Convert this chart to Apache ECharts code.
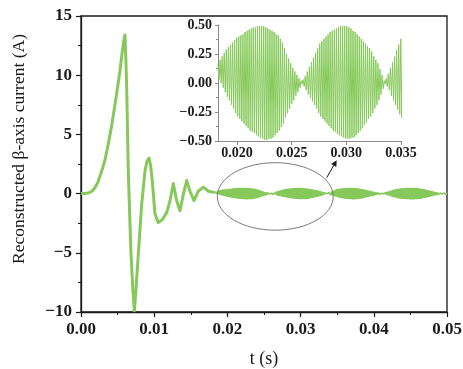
<!DOCTYPE html>
<html>
<head>
<meta charset="utf-8">
<script src="https://cdn.jsdelivr.net/npm/echarts@6/dist/echarts.min.js"></script>
<style>
  html, body { margin: 0; padding: 0; background: #fff; }
  #chart { width: 463px; height: 369px; }
</style>
</head>
<body>
<div id="chart"></div>
<script>
// Start-up transient of the reconstructed beta-axis current (s, A)
const tTrend = [0, 0.0005, 0.001, 0.0015, 0.0019, 0.0023, 0.00283, 0.0033, 0.00373, 0.0042,
  0.00464, 0.005, 0.00533, 0.0056, 0.00592, 0.006, 0.00612, 0.00624, 0.00646, 0.00665,
  0.00683, 0.0071, 0.00729, 0.0075, 0.00783, 0.00829, 0.00874, 0.009, 0.00929, 0.0095,
  0.00974, 0.0101, 0.01056, 0.01111, 0.01171, 0.01216, 0.01261, 0.01307, 0.01352, 0.01398,
  0.01444, 0.01489, 0.01544, 0.01602, 0.01671, 0.0174, 0.01826];
const iTrend = [0, 0, 0.05, 0.2, 0.5, 0.95, 1.9, 2.9, 4.2, 5.8,
  7.5, 9.0, 10.4, 11.8, 13.2, 13.4, 11.5, 9.0, 1.9, -1.8,
  -5.1, -8.3, -9.9, -8.2, -5.1, -0.9, 1.9, 2.7, 3.0, 2.4,
  1.1, -1.7, -2.45, -2.2, -1.6, -0.6, 0.85, -0.6, -1.45, -0.05,
  1.1, 0.2, -0.6, 0.2, 0.55, 0.2, 0.1];

// Steady-state ripple: one maximum and one minimum per carrier cycle
const cycleStart = 0.01826;
const cyclePeriod = 0.00019;
const cycleMax = [
  0.17, 0.20, 0.23, 0.26, 0.29, 0.31, 0.33, 0.35, 0.37, 0.39,
  0.40, 0.41, 0.42, 0.44, 0.45, 0.46, 0.47, 0.48, 0.48, 0.49,
  0.49, 0.49, 0.49, 0.48, 0.47, 0.46, 0.45, 0.44, 0.42, 0.41,
  0.38, 0.35, 0.30, 0.25, 0.21, 0.17, 0.13, 0.10, 0.07, 0.04,
  0.02, 0.03, 0.06, 0.10, 0.14, 0.18, 0.22, 0.26, 0.30, 0.34,
  0.36, 0.38, 0.40, 0.42, 0.44, 0.45, 0.46, 0.47, 0.48, 0.49,
  0.49, 0.49, 0.49, 0.48, 0.47, 0.45, 0.44, 0.42, 0.40, 0.38,
  0.36, 0.34, 0.32, 0.30, 0.27, 0.23, 0.20, 0.17, 0.12, 0.07,
  0.02, 0.04, 0.08, 0.13, 0.18, 0.23, 0.28, 0.33, 0.38, 0.40,
  0.42, 0.44, 0.45, 0.46, 0.47, 0.48, 0.49, 0.49, 0.49, 0.49,
  0.48, 0.47, 0.46, 0.45, 0.43, 0.41, 0.39, 0.37, 0.34, 0.31,
  0.28, 0.25, 0.22, 0.19, 0.16, 0.13, 0.10, 0.07, 0.05, 0.03,
  0.02, 0.04, 0.07, 0.10, 0.14, 0.18, 0.22, 0.26, 0.30, 0.33,
  0.36, 0.38, 0.40, 0.42, 0.44, 0.45, 0.46, 0.47, 0.48, 0.49,
  0.49, 0.49, 0.49, 0.49, 0.48, 0.47, 0.46, 0.45, 0.43, 0.41,
  0.39, 0.36, 0.33, 0.30, 0.27, 0.24, 0.21, 0.18, 0.15, 0.12,
  0.09, 0.07, 0.05, 0.03, 0.02, 0.04, 0.07, 0.10];
const cycleMin = [
  0.03, 0.00, -0.04, -0.08, -0.12, -0.15, -0.19, -0.22, -0.26, -0.29,
  -0.31, -0.33, -0.35, -0.37, -0.39, -0.41, -0.42, -0.43, -0.45, -0.46,
  -0.47, -0.48, -0.49, -0.49, -0.48, -0.48, -0.47, -0.45, -0.43, -0.41,
  -0.38, -0.35, -0.30, -0.26, -0.22, -0.18, -0.15, -0.11, -0.08, -0.04,
  -0.01, -0.03, -0.06, -0.10, -0.13, -0.16, -0.19, -0.22, -0.26, -0.29,
  -0.31, -0.33, -0.35, -0.37, -0.39, -0.41, -0.42, -0.44, -0.45, -0.46,
  -0.47, -0.48, -0.48, -0.48, -0.47, -0.47, -0.45, -0.43, -0.41, -0.39,
  -0.36, -0.34, -0.31, -0.29, -0.26, -0.22, -0.19, -0.15, -0.10, -0.05,
  -0.01, -0.03, -0.06, -0.11, -0.15, -0.19, -0.23, -0.27, -0.30, -0.33,
  -0.36, -0.39, -0.41, -0.43, -0.45, -0.46, -0.47, -0.48, -0.48, -0.49,
  -0.49, -0.48, -0.47, -0.46, -0.44, -0.42, -0.40, -0.37, -0.34, -0.31,
  -0.28, -0.25, -0.22, -0.19, -0.16, -0.13, -0.10, -0.07, -0.05, -0.03,
  -0.01, -0.03, -0.06, -0.10, -0.14, -0.18, -0.22, -0.26, -0.29, -0.32,
  -0.35, -0.38, -0.40, -0.42, -0.44, -0.45, -0.46, -0.47, -0.48, -0.48,
  -0.49, -0.49, -0.49, -0.49, -0.48, -0.47, -0.46, -0.45, -0.43, -0.41,
  -0.39, -0.36, -0.33, -0.30, -0.27, -0.24, -0.21, -0.18, -0.15, -0.12,
  -0.09, -0.07, -0.05, -0.03, -0.01, -0.03, -0.06, -0.09];

// Axis ticks
const insetXTicks = [0.020, 0.025, 0.030, 0.035];

// Zoomed window shown in the inset (s)
const insetRange = [0.01826, 0.035];

const GREEN = '#86c95a';
const SERIF = '"Liberation Serif", "Times New Roman", serif';

const trendData = tTrend.map((t, k) => [t, iTrend[k]]);
const rippleData = [];
cycleMax.forEach((hi, k) => {
  const t0 = cycleStart + k * cyclePeriod;
  rippleData.push([t0, hi]);
  rippleData.push([t0 + cyclePeriod / 2, cycleMin[k]]);
});

const minus = s => String(s).replace('-', '\u2212');

const chart = echarts.init(document.getElementById('chart'), null, { renderer: 'canvas' });

const mainAxisLine = { onZero: false, lineStyle: { color: '#1a1a1a', width: 1.3 } };
const insetAxisLine = { onZero: false, lineStyle: { color: '#8a8a8a', width: 1 } };

chart.setOption({
  animation: false,
  backgroundColor: '#fff',
  grid: [
    { left: 81, right: 16, top: 16, bottom: 57, outerBoundsMode: 'none', containLabel: false,
      show: true, borderColor: '#1a1a1a', borderWidth: 1.3, backgroundColor: 'transparent' },
    { left: 218, right: 62, top: 25, bottom: 228, outerBoundsMode: 'none', containLabel: false }
  ],
  xAxis: [
    {
      gridIndex: 0, type: 'value', min: 0, max: 0.05, interval: 0.01,
      name: 't (s)', nameLocation: 'middle', nameGap: 38,
      nameTextStyle: { fontFamily: SERIF, fontSize: 18, color: '#1a1a1a' },
      axisLine: mainAxisLine,
      axisTick: { length: 5, lineStyle: { color: '#1a1a1a', width: 1.2 } },
      minorTick: { show: true, splitNumber: 2, length: 3, lineStyle: { color: '#1a1a1a', width: 1 } },
      splitLine: { show: false },
      axisLabel: { margin: 9, fontFamily: SERIF, fontWeight: 'bold', fontSize: 17, color: '#1a1a1a',
        formatter: v => v.toFixed(2) }
    },
    {
      gridIndex: 1, type: 'value', min: insetRange[0], max: insetRange[1],
      axisLine: insetAxisLine,
      axisTick: { customValues: insetXTicks, length: 4, lineStyle: { color: '#8a8a8a' } },
      splitLine: { show: false },
      axisLabel: { customValues: insetXTicks, margin: 5, fontFamily: SERIF, fontWeight: 'bold', fontSize: 14, color: '#1a1a1a',
        formatter: v => v.toFixed(3) }
    }
  ],
  yAxis: [
    {
      gridIndex: 0, type: 'value', min: -10, max: 15, interval: 5,
      name: 'Reconstructed \u03b2-axis current (A)', nameLocation: 'middle', nameGap: 53,
      nameTextStyle: { fontFamily: SERIF, fontSize: 17.5, color: '#1a1a1a', padding: [0, 0, 0, 30] },
      axisLine: mainAxisLine,
      axisTick: { length: 5, lineStyle: { color: '#1a1a1a', width: 1.2 } },
      minorTick: { show: true, splitNumber: 2, length: 3, lineStyle: { color: '#1a1a1a', width: 1 } },
      splitLine: { show: false },
      axisLabel: { margin: 9, fontFamily: SERIF, fontWeight: 'bold', fontSize: 17, color: '#1a1a1a',
        formatter: v => minus(v) }
    },
    {
      gridIndex: 1, type: 'value', min: -0.5, max: 0.5, interval: 0.25,
      axisLine: insetAxisLine,
      axisTick: { length: 3, lineStyle: { color: '#8a8a8a' } },
      minorTick: { show: true, splitNumber: 2, length: 2, lineStyle: { color: '#8a8a8a' } },
      splitLine: { show: false },
      axisLabel: { margin: 6, fontFamily: SERIF, fontWeight: 'bold', fontSize: 14, color: '#1a1a1a',
        formatter: v => minus(v.toFixed(2)) }
    }
  ],
  series: [
    {
      name: 'transient', type: 'line', xAxisIndex: 0, yAxisIndex: 0,
      data: trendData, showSymbol: false, symbol: 'none',
      lineStyle: { color: GREEN, width: 3, join: 'round' }, z: 3
    },
    {
      name: 'ripple', type: 'line', xAxisIndex: 0, yAxisIndex: 0,
      data: rippleData, showSymbol: false, symbol: 'none',
      lineStyle: { color: GREEN, width: 1.6 }, z: 3
    },
    {
      name: 'ripple zoom', type: 'line', xAxisIndex: 1, yAxisIndex: 1,
      data: rippleData, showSymbol: false, symbol: 'none',
      lineStyle: { color: GREEN, width: 1 }, z: 3
    }
  ]
});

// Ellipse marking the zoomed window, and the arrow pointing to the inset
const toPx = p => chart.convertToPixel({ gridIndex: 0 }, p);
const c = toPx([0.02654, -0.24]);
const e1 = toPx([0.02654 + 0.00792, -0.24 + 2.85]);
const a0 = toPx([0.03357, 1.35]);
const a1 = toPx([0.03493, 2.82]);
const dx = a1[0] - a0[0], dy = a1[1] - a0[1];
const len = Math.hypot(dx, dy), ux = dx / len, uy = dy / len;
const head = 6, wing = 3;
chart.setOption({
  graphic: [
    {
      type: 'ellipse', z: 10,
      shape: { cx: c[0], cy: c[1], rx: Math.abs(e1[0] - c[0]), ry: Math.abs(e1[1] - c[1]) },
      style: { fill: 'none', stroke: '#7a7a7a', lineWidth: 1 }
    },
    {
      type: 'line', z: 10,
      shape: { x1: a0[0], y1: a0[1], x2: a1[0] - ux * head, y2: a1[1] - uy * head },
      style: { stroke: '#1a1a1a', lineWidth: 1 }
    },
    {
      type: 'polygon', z: 10,
      shape: { points: [
        [a1[0], a1[1]],
        [a1[0] - ux * head - uy * wing, a1[1] - uy * head + ux * wing],
        [a1[0] - ux * head + uy * wing, a1[1] - uy * head - ux * wing]
      ] },
      style: { fill: '#1a1a1a' }
    }
  ]
});
</script>
</body>
</html>
